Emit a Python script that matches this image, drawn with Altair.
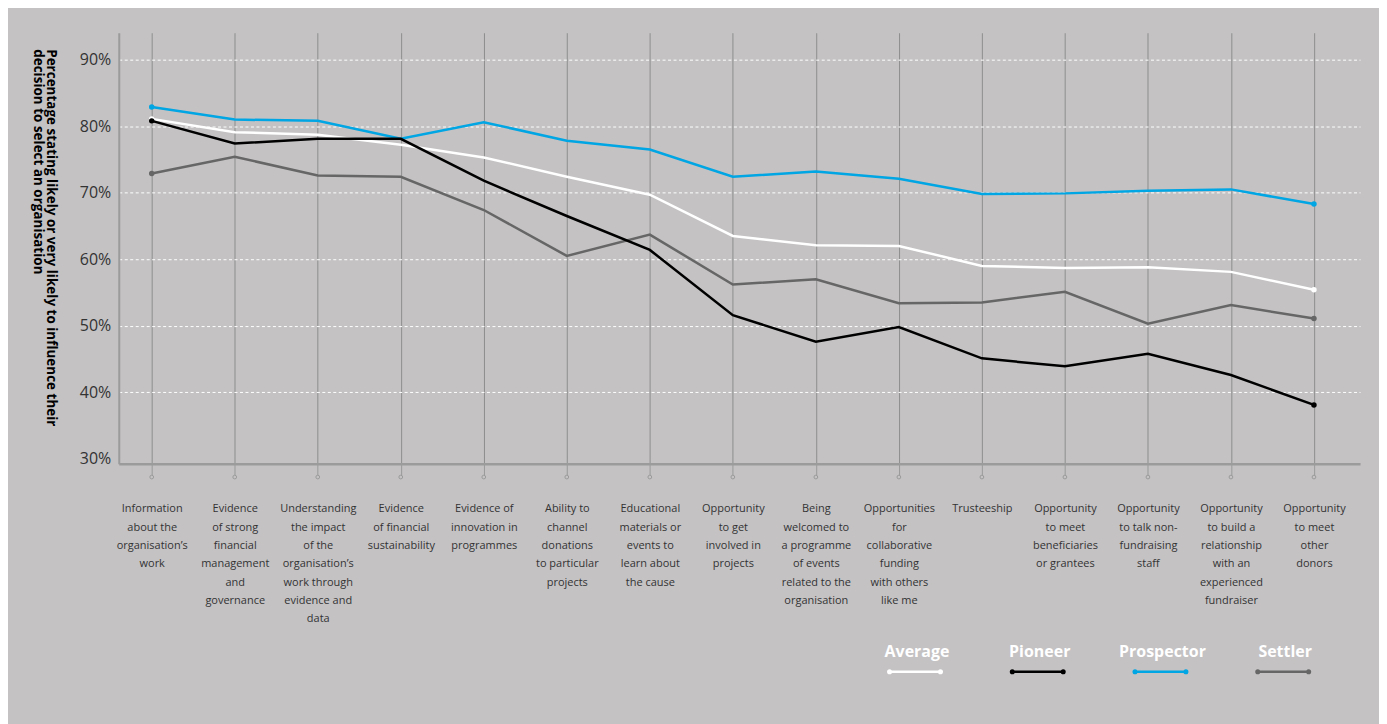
import altair as alt
import pandas as pd

categories = [
    "Information\nabout the\norganisation’s\nwork",
    "Evidence\nof strong\nfinancial\nmanagement\nand\ngovernance",
    "Understanding\nthe impact\nof the\norganisation’s\nwork through\nevidence and\ndata",
    "Evidence\nof financial\nsustainability",
    "Evidence of\ninnovation in\nprogrammes",
    "Ability to\nchannel\ndonations\nto particular\nprojects",
    "Educational\nmaterials or\nevents to\nlearn about\nthe cause",
    "Opportunity\nto get\ninvolved in\nprojects",
    "Being\nwelcomed to\na programme\nof events\nrelated to the\norganisation",
    "Opportunities\nfor\ncollaborative\nfunding\nwith others\nlike me",
    "Trusteeship",
    "Opportunity\nto meet\nbeneficiaries\nor grantees",
    "Opportunity\nto talk non-\nfundraising\nstaff",
    "Opportunity\nto build a\nrelationship\nwith an\nexperienced\nfundraiser",
    "Opportunity\nto meet\nother\ndonors",
]

series_names = ["Average", "Pioneer", "Prospector", "Settler"]
series_colors = ["#ffffff", "#000000", "#00a5e3", "#666666"]

average = [81.1, 79.1, 78.7, 77.2, 75.3, 72.4, 69.7, 63.5, 62.1, 62.0, 59.0, 58.7, 58.8, 58.1, 55.4]
pioneer = [80.8, 77.4, 78.1, 78.1, 71.8, 66.5, 61.4, 51.6, 47.6, 49.8, 45.1, 43.9, 45.8, 42.6, 38.1]
prospector = [82.9, 81.0, 80.8, 78.1, 80.6, 77.8, 76.5, 72.4, 73.2, 72.1, 69.8, 69.9, 70.3, 70.5, 68.3]
settler = [72.9, 75.4, 72.6, 72.4, 67.4, 60.5, 63.7, 56.2, 57.0, 53.4, 53.5, 55.1, 50.3, 53.1, 51.1]

y_ticks = [30, 40, 50, 60, 70, 80, 90]
y_title = [
    "Percentage stating likely or very likely to influence their",
    "decision to select an organisation",
]

rows = []
for name, vals in [("Settler", settler), ("Average", average),
                   ("Prospector", prospector), ("Pioneer", pioneer)]:
    for i, (c, v) in enumerate(zip(categories, vals)):
        rows.append({"category": c, "series": name, "value": v, "idx": i})
df = pd.DataFrame(rows)
ends = df[(df["idx"] == 0) | (df["idx"] == len(categories) - 1)]
cat_df = pd.DataFrame({"category": categories})

font = "Open Sans"
color_scale = alt.Scale(domain=series_names, range=series_colors)
x_scale = alt.Scale(type="point", padding=0.476, align=0.417, round=False)
y_scale = alt.Scale(domain=[29.25, 94.05], nice=False, zero=False)

x_axis = alt.Axis(
    title=None, labelExpr="split(datum.label, '\\n')", labelAngle=0,
    labelAlign="center", labelBaseline="top", labelFont=font, labelFontSize=11,
    labelColor="#333333", labelLineHeight=18.4, labelPadding=28, labelLimit=300,
    labelOverlap=False, tickSize=11, tickColor="#9a9a9a", tickWidth=1,
    domainColor="#9b9b9b", domainWidth=2.5, grid=True, gridColor="#8e8e8e",
    gridWidth=1,
)
y_axis = alt.Axis(
    values=y_ticks, labelExpr="datum.value + '%'", title=y_title,
    titleAngle=90, titleAlign="left", titleBaseline="top", titleX=-61, titleY=16,
    titleFont=font, titleFontWeight="bold", titleFontSize=13.5, titleColor="#000000",
    titleLineHeight=13.5, labelFont=font, labelFontSize=16, labelColor="#333333",
    labelPadding=8, ticks=False, domainColor="#9b9b9b", domainWidth=2,
    grid=True, gridColor="#ffffff", gridDash=[3, 2.5], gridWidth=1,
    gridOpacity={"condition": {"test": "datum.value == 30", "value": 0}, "value": 1},
)

sym_path = ("M-56,0 M56,0 M-25.5,20 L25.5,20 "
            "M-24.2,20 A1.3,1.3 0 1,1 -26.8,20 A1.3,1.3 0 1,1 -24.2,20 "
            "M26.8,20 A1.3,1.3 0 1,1 24.2,20 A1.3,1.3 0 1,1 26.8,20")

legend = alt.Legend(
    title=None, orient="none", legendX=790, legendY=612, direction="horizontal",
    symbolType=sym_path, symbolSize=4, symbolStrokeWidth=2.5,
    labelFont=font, labelFontSize=16, labelFontWeight="bold", labelColor="#ffffff",
    labelAlign="center", labelBaseline="middle", labelOffset={"expr": "-6"},
    columnPadding=1,
)

x_enc = alt.X("category:N", sort=categories, scale=x_scale, axis=x_axis)
y_enc = alt.Y("value:Q", scale=y_scale, axis=y_axis)

lines = alt.Chart(df).mark_line(strokeWidth=2.5).encode(
    x=x_enc, y=y_enc,
    color=alt.Color("series:N", scale=color_scale, sort=series_names, legend=legend),
)
end_dots = alt.Chart(ends).mark_circle(size=30, opacity=1).encode(
    x=alt.X("category:N", sort=categories), y="value:Q",
    color=alt.Color("series:N", scale=color_scale, legend=None),
)
tick_dots = alt.Chart(cat_df).mark_point(
    shape="circle", filled=False, size=14, strokeWidth=1, color="#9a9a9a", opacity=1
).encode(x=alt.X("category:N", sort=categories), y=alt.value(445.3))

chart = alt.layer(lines, end_dots, tick_dots).properties(
    width=1244, height=432, autosize=alt.AutoSizeParams(type="none"),
    padding={"left": 111, "top": 24, "right": 19, "bottom": 260},
    background="#c4c2c3",
).configure_view(stroke=None)

chart.save("out.html", embed_options={"renderer": "svg", "actions": False})
